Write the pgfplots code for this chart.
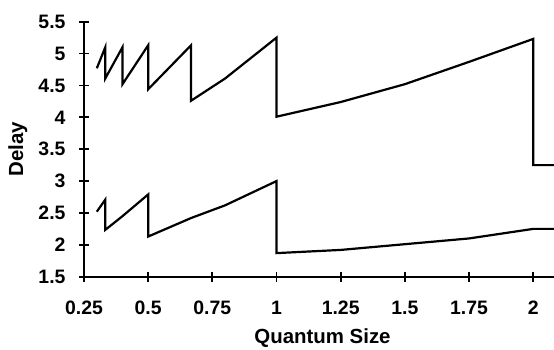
\documentclass[border=0pt]{standalone}
\usepackage{pgfplots}
\pgfplotsset{compat=1.18}
\usepackage{fontspec}
\setmainfont{Liberation Sans}
\begin{document}
\begin{tikzpicture}
\begin{axis}[
 at={(0,0)}, anchor=south west,
 scale only axis, width=470bp, height=255bp,
 xmin=0.25, xmax=2.081, ymin=1.5, ymax=5.5,
 axis x line=bottom, axis y line=left,
 axis line style={line width=1.8bp, -},
 xtick={0.25,0.5,0.75,1,1.25,1.5,1.75,2},
 xticklabels={0.25,0.5,0.75,1,1.25,1.5,1.75,2},
 ytick={1.5,2,2.5,3,3.5,4,4.5,5,5.5},
 yticklabels={1.5,2,2.5,3,3.5,4,4.5,5,5.5},
 tick align=center, major tick length=10bp,
 tick style={line width=1.8bp, black},
 tick label style={font=\bfseries\fontsize{19.5}{21}\selectfont, inner sep=0pt},
 xticklabel style={anchor=base, yshift=-33bp},
 yticklabel style={anchor=east, xshift=-13.3bp},
 label style={font=\bfseries\fontsize{20.5}{22}\selectfont, inner sep=0pt},
 xlabel={Quantum Size}, ylabel={Delay},
 xlabel style={at={(axis description cs:0.5,0)}, anchor=base, yshift=-67bp, xshift=3.5bp},
 ylabel style={at={(axis description cs:-0.1409,0.5)}, anchor=center},
 clip=false,
]
\addplot[black, line width=2.2bp, line join=miter] coordinates {
(0.3,4.77)(0.333,5.10)(0.333,4.61)(0.4,5.10)(0.4,4.52)(0.5,5.13)(0.5,4.44)(0.667,5.13)(0.667,4.26)(0.8,4.61)(1,5.25)(1,4.01)(1.25,4.24)(1.5,4.52)(1.75,4.87)(2,5.23)(2,3.25)(2.081,3.25)
};
\addplot[black, line width=2.2bp, line join=miter] coordinates {
(0.3,2.52)(0.333,2.71)(0.333,2.235)(0.4,2.45)(0.5,2.79)(0.5,2.13)(0.667,2.42)(0.8,2.62)(1,3.0)(1,1.87)(1.25,1.92)(1.5,2.01)(1.75,2.10)(2,2.25)(2.081,2.25)
};
\end{axis}
\pgfresetboundingbox
\path (-84bp,-73.3bp) rectangle (470bp,276.7bp);
\end{tikzpicture}
\end{document}
